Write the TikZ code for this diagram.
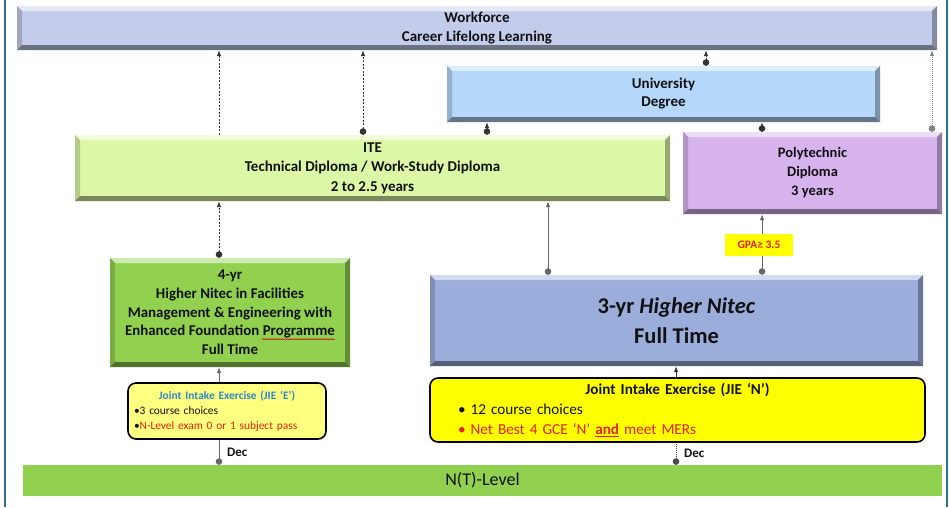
\documentclass[tikz,border=0pt]{standalone}
\usepackage{fontspec}
\setmainfont{Carlito}
\usetikzlibrary{calc,arrows.meta,backgrounds,decorations.pathmorphing}

\definecolor{wfc}{HTML}{C3CDEB}
\definecolor{unic}{HTML}{B5D7F9}
\definecolor{itec}{HTML}{DCF8A6}
\definecolor{polc}{HTML}{D8B4EE}
\definecolor{grc}{HTML}{92D050}
\definecolor{hnc}{HTML}{9AADDB}
\definecolor{jiee}{HTML}{FFFF80}
\definecolor{jien}{HTML}{FFFF00}
\definecolor{framec}{HTML}{2F6F8F}
\definecolor{bluet}{HTML}{2E86C8}
\definecolor{redt}{HTML}{E8200C}
\definecolor{txt}{HTML}{111111}
\definecolor{lnc}{HTML}{333333}

\newcommand\bevelpp[1]{%
  \path (path picture bounding box.north west) coordinate (pNW)
        (path picture bounding box.north east) coordinate (pNE)
        (path picture bounding box.south west) coordinate (pSW)
        (path picture bounding box.south east) coordinate (pSE);
  \fill[#1!45!white] (pNW) -- (pNE) -- ($(pNE)+(-5pt,-5pt)$) -- ($(pNW)+(5pt,-5pt)$) -- cycle;
  \fill[#1!82!black] (pNW) -- ($(pNW)+(5pt,-5pt)$) -- ($(pSW)+(5pt,5pt)$) -- (pSW) -- cycle;
  \fill[#1!68!black] (pNE) -- ($(pNE)+(-5pt,-5pt)$) -- ($(pSE)+(-5pt,5pt)$) -- (pSE) -- cycle;
  \fill[#1!55!black] (pSW) -- ($(pSW)+(5pt,5pt)$) -- ($(pSE)+(-5pt,5pt)$) -- (pSE) -- cycle;
}

\tikzset{
  bbox/.style={fill=#1, inner sep=0pt, align=center, text=txt,
    font=\bfseries\fontsize{15}{19}\selectfont,
    path picture={\bevelpp{#1}}},
  jiebox/.style={fill=#1, draw=black, line width=1.6pt, rounded corners=8pt,
    inner sep=0pt, align=left, text=txt},
  conn/.style={lnc, line width=0.9pt},
  dsh/.style={conn, dash pattern=on 2pt off 1.5pt},
  dtg/.style={gray, line width=0.9pt, dash pattern=on 1pt off 1pt},
  arr/.style={-{Latex[length=6pt,width=4.5pt]}},
  dotarr/.style={{Circle[length=6.5pt]}-{Latex[length=6pt,width=4.5pt]}},
  dotonly/.style={{Circle[length=6.5pt]}-},
  declab/.style={anchor=west, font=\bfseries\fontsize{13}{15}\selectfont, text=txt, inner sep=2pt, xshift=6pt}
}

\begin{document}
\begin{tikzpicture}[x=1pt,y=-1pt]
\useasboundingbox (0,0) rectangle (949,507);
\fill[white] (0,0) rectangle (949,507);

% column coordinates
\coordinate (c219) at (219,0);
\coordinate (c363) at (363,0);
\coordinate (c431) at (431,0);
\coordinate (c487) at (487,0);
\coordinate (c548) at (548,0);
\coordinate (c676) at (676,0);
\coordinate (c706) at (706,0);
\coordinate (c762) at (762,0);
\coordinate (c932) at (932,0);

% frame lines
\draw[framec, line width=2pt] (5,0) -- (5,507);
\draw[framec, line width=2pt] (947,0) -- (947,507);

% boxes
\node[bbox=wfc, minimum width=920pt, minimum height=44pt] (wf) at (477,28)
  {Workforce\\Career Lifelong Learning};
\node[bbox=unic, minimum width=433pt, minimum height=56pt, font=\bfseries\fontsize{15}{18}\selectfont] (uni) at (663.5,94)
  {University\\Degree};
\node[bbox=itec, minimum width=595pt, minimum height=66pt, font=\bfseries\fontsize{15}{19.5}\selectfont] (ite) at (372.5,168)
  {ITE\\Technical Diploma / Work-Study Diploma\\2 to 2.5 years};
\node[bbox=polc, minimum width=259pt, minimum height=82pt, font=\bfseries\fontsize{14.5}{19}\selectfont] (pol) at (812.5,173)
  {Polytechnic\\Diploma\\3 years};
\node[bbox=grc, minimum width=240pt, minimum height=109pt, font=\bfseries\fontsize{14.9}{18.7}\selectfont] (fy) at (230,312.5)
  {4-yr\\Higher Nitec in Facilities\\Management \& Engineering with\\Enhanced Foundation Programme\\Full Time};
\node[bbox=hnc, minimum width=493pt, minimum height=91pt, font=\bfseries\fontsize{22.5}{30}\selectfont] (hn) at (676.5,320.5)
  {3-yr \textit{Higher Nitec}\\Full Time};

\node[jiebox=jiee, minimum width=198pt, minimum height=56pt, text width=186pt,
      font=\fontsize{11.4}{15}\selectfont] (jiee) at (227,411)
  {\makebox[\linewidth]{\color{bluet}\bfseries Joint Intake Exercise (JIE ‘E’)}\\
   •3 course choices\\
   •{\color{redt}N-Level exam 0 or 1 subject pass}};
\node[jiebox=jien, minimum width=495pt, minimum height=64pt, text width=475pt,
      font=\fontsize{15.2}{20}\selectfont] (jien) at (677.5,410)
  {\makebox[\linewidth]{\bfseries Joint Intake Exercise (JIE ‘N’)}\\
   \hspace*{18pt}• 12 course choices\\
   \hspace*{18pt}{\color{redt}• Net Best 4 GCE ‘N’ \underline{\textbf{and}} meet MERs}};

\node[fill=grc, minimum width=919pt, minimum height=31pt, inner sep=0pt,
      font=\fontsize{18}{20}\selectfont, text=txt] (nt) at (482.5,480.5) {N(T)-Level};

% red spell-check squiggle under "Programme"
\draw[red!80!black, line width=0.5pt, decorate,
      decoration={snake, amplitude=0.6pt, segment length=2.5pt}]
      ($(fy.south west)+(152pt,28pt)$) -- ($(fy.south west)+(225pt,28pt)$);

% connectors
\begin{scope}[on background layer]
\draw[dtg, {Circle[length=4pt]}-{Latex[length=6pt,width=4.5pt]}] (hn.north -| c431) -- (wf.south -| c431);
\end{scope}
\draw[dsh, arr] (ite.north -| c219) -- (wf.south -| c219);
\draw[dsh, dotarr] (ite.north -| c363) -- (wf.south -| c363);
\draw[dsh, dotarr] (ite.north -| c487) -- (uni.south -| c487);
\draw[dsh, dotarr] (uni.north -| c706) -- (wf.south -| c706);
\draw[dsh, dotarr] (pol.north -| c762) -- (uni.south -| c762);
\draw[dtg, dotarr] (pol.north -| c932) -- (wf.south -| c932);
\draw[dsh, dotarr] (fy.north -| c219) -- (ite.south -| c219);
\draw[conn, gray!80!black, dotarr] (hn.north -| c548) -- (ite.south -| c548);
\draw[conn, gray!80!black, dotarr] (hn.north -| c762) -- (pol.south -| c762);
\draw[conn, gray!80!black, arr] (jiee.north -| c219) -- (fy.south -| c219);
\draw[conn, arr] (jien.north -| c676) -- (hn.south -| c676);
\draw[conn, gray!80!black, dotonly] (nt.north -| c219) -- (jiee.south -| c219);
\draw[dtg, black!70, dotonly] (nt.north -| c676) -- (jien.south -| c676);

\node[fill=jien, minimum width=68pt, minimum height=22pt, inner sep=0pt,
      font=\bfseries\fontsize{11.5}{13}\selectfont, text=redt] (gpa) at (759,245) {GPA≥ 3.5};

\node[declab] (dec1) at ($(nt.north -| c219)!0.5!(jiee.south -| c219)$) {Dec};
\node[declab] (dec2) at ($(nt.north -| c676)!0.5!(jien.south -| c676)$) {Dec};
\end{tikzpicture}
\end{document}
